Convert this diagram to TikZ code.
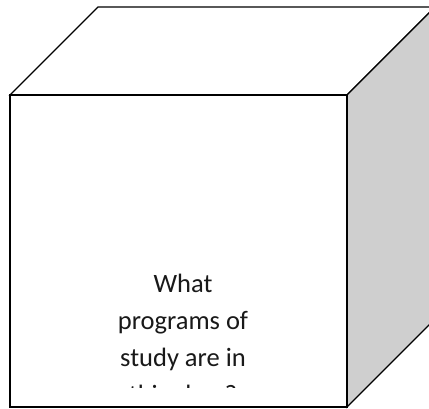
\documentclass[tikz,border=0pt]{standalone}
\usepackage{fontspec}
\setmainfont{Carlito}
\usepackage{tikz}
\usetikzlibrary{positioning}

\begin{document}
\begin{tikzpicture}[x=1pt, y=-1pt, edge/.style={draw=black, line width=1.1pt, line join=miter}, face/.style={edge, fill=white}, side/.style={edge, fill=black!19}, question/.style={font=\fontsize{26.5}{37}\selectfont, align=center, anchor=base, text=black!90}]
                \useasboundingbox (0,0) rectangle (429,409);
                \clip (0,0) rectangle (429,409);
                % Corners
                \coordinate (A) at (10,95);
                \coordinate (B) at (347,95);
                \coordinate (C) at (347,407);
                \coordinate (D) at (10,407);
                \coordinate (E) at (98,7);
                \coordinate (F) at (435,7);
                \coordinate (G) at (435,319);
                
                % Faces
                \path[face] (A) -- (E) -- (F) -- (B) -- cycle;
                \path[side] (B) -- (F) -- (G) -- (C) -- cycle;
                \path[face] (A) -- (B) -- (C) -- (D) -- cycle;
                
                % Text
                \begin{scope}
                    \clip (12,97) rectangle (345,387);
                    \node[question] (Q) at (183,403) {What\\programs of\\study are in\\this class?};
                \end{scope}
            \end{tikzpicture}
\end{document}
